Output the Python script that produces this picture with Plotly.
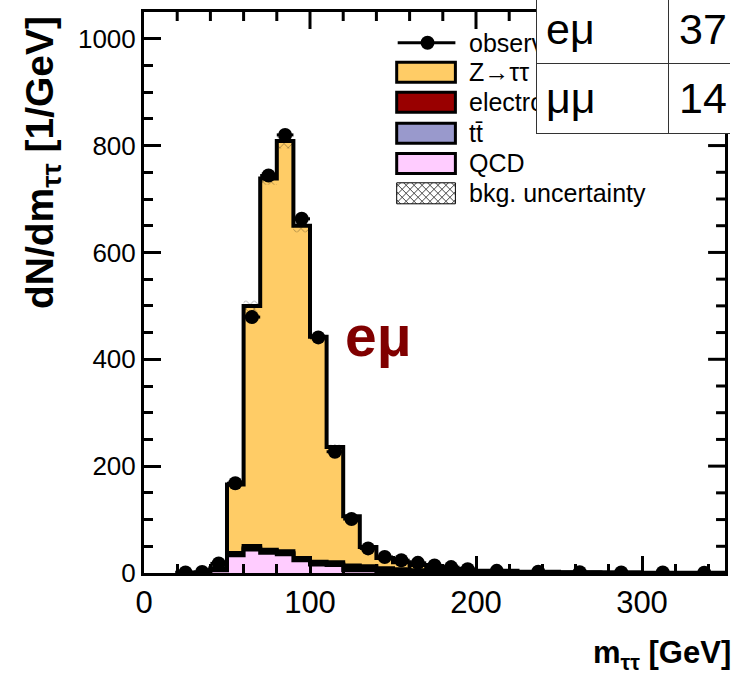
import numpy as np
import plotly.graph_objects as go

# ---------------- data ----------------
bin_edges = [20, 30, 40, 50, 60, 70, 80, 90, 100, 110, 120, 130, 140, 150, 160, 170,
             180, 190, 200, 225, 250, 275, 300, 325, 350]
ztt_values = [0.5, 1, 2.5, 128, 449, 695, 768, 622, 421, 216, 92, 36, 19, 13, 10, 6.5,
              5, 3.3, 2.2, 1.4, 0.8, 0.5, 0.5, 0.3]
ewk_values = [0, 0, 1, 3, 4, 3, 3, 2, 3, 3, 6, 5, 4, 3, 2.5, 2, 1.5, 1.2, 0.8, 0.5, 0.3,
              0.2, 0.1, 0.1]
ttbar_values = [0, 0, 0.5, 1.5, 2.5, 2.5, 2.5, 2, 2, 2, 3, 2.5, 2, 2, 1.5, 1.5, 1, 1, 0.7,
                0.4, 0.3, 0.2, 0.1, 0.1]
qcd_values = [0, 0, 5, 33, 44, 38, 35, 24, 16, 15, 5, 5, 3, 2, 1, 1, 0.5, 0.5, 0.3, 0.2,
              0.1, 0.1, 0, 0]
bkg_unc = [0, 0, 1, 5, 10, 12, 14, 12, 6, 4, 2, 1.5, 1, 1, 0.8, 0.6, 0.5, 0.4, 0.3, 0.2,
           0.1, 0.1, 0.1, 0.1]
obs_values = [1, 2, 18, 168, 479, 744, 820, 663, 441, 227, 101, 46, 30, 24, 19, 14, 11, 7,
              4, 2.5, 1.5, 1, 1, 0.5]

x_tick_vals = [0, 100, 200, 300]
y_tick_vals = [0, 200, 400, 600, 800, 1000]
x_minor_step = 20
y_minor_step = 50

legend_labels = ["observed", "Z\u2192\u03c4\u03c4", "electroweak", "tt\u0304", "QCD",
                 "bkg. uncertainty"]
colors = {"ztt": "#FFCC66", "ewk": "#990000", "ttbar": "#9999CC", "qcd": "#FFCCFF"}

channel_label = "e\u03bc"
table_rows = [("e\u03bc", "37"), ("\u03bc\u03bc", "14")]

# ---------------- helpers ----------------
edges = np.array(bin_edges, dtype=float)
centers = 0.5 * (edges[:-1] + edges[1:])
half_w = 0.5 * (edges[1:] - edges[:-1])

qcd = np.array(qcd_values)
c_tt = qcd + np.array(ttbar_values)
c_ewk = c_tt + np.array(ewk_values)
c_tot = c_ewk + np.array(ztt_values)
unc = np.array(bkg_unc)

X_RANGE = [0, 350]
Y_RANGE = [0, 1050]


def step(vals, close=True):
    xs = [edges[0]] + list(edges)
    ys = [0.0] + list(vals) + [vals[-1]]
    if close:
        xs = xs + [edges[-1]]
        ys = ys + [0.0]
    return xs, ys


FONT = "Liberation Sans, Arial, Helvetica, sans-serif"
W, H = 732, 676
L, R, T, B = 144, 728, 12, 573
PW, PH = R - L, B - T


def px(x):
    return (x - L) / PW


def py(y):
    return (B - y) / PH


fig = go.Figure()

for vals, col in [(c_tot, colors["ztt"]), (c_ewk, colors["ewk"]),
                  (c_tt, colors["ttbar"]), (qcd, colors["qcd"])]:
    xs, ys = step(vals)
    fig.add_trace(go.Scatter(x=xs, y=ys, mode="lines", line=dict(shape="hv", color="black", width=4),
                             fill="tozeroy", fillcolor=col, hoverinfo="skip"))

# uncertainty band (hatched)
xs, ys_lo = step(c_tot - unc, close=False)
_, ys_hi = step(c_tot + unc, close=False)
fig.add_trace(go.Scatter(x=xs[1:], y=ys_lo[1:], mode="lines", line=dict(shape="hv", width=0),
                         hoverinfo="skip"))
fig.add_trace(go.Scatter(x=xs[1:], y=ys_hi[1:], mode="lines", line=dict(shape="hv", width=0),
                         fill="tonexty", fillcolor="rgba(0,0,0,0)",
                         fillpattern=dict(shape="x", fgcolor="black", bgcolor="rgba(0,0,0,0)",
                                          size=6, solidity=0.2),
                         hoverinfo="skip"))

# observed data
fig.add_trace(go.Scatter(x=centers, y=obs_values, mode="markers",
                         marker=dict(color="black", size=14, symbol="circle"),
                         error_x=dict(type="data", array=half_w, color="black", thickness=3, width=0),
                         hoverinfo="skip"))

tick_common = dict(ticks="inside", ticklen=17, tickwidth=3, tickcolor="black",
                   showgrid=False, zeroline=False, showline=True, linecolor="black",
                   linewidth=3, mirror=True)

fig.update_layout(
    xaxis=dict(range=X_RANGE, tickvals=x_tick_vals, ticktext=[str(v) for v in x_tick_vals],
               tickfont=dict(family=FONT, size=31, color="black"),
               minor=dict(dtick=x_minor_step, tick0=0, ticks="inside", ticklen=9, tickwidth=3,
                          tickcolor="black", showgrid=False),
               **tick_common),
    yaxis=dict(range=Y_RANGE, tickvals=y_tick_vals, ticktext=[str(v) for v in y_tick_vals],
               tickfont=dict(family=FONT, size=26, color="black"),
               minor=dict(dtick=y_minor_step, tick0=0, ticks="inside", ticklen=9, tickwidth=3,
                          tickcolor="black", showgrid=False),
               **tick_common),
)

shapes = []
annotations = []

# ---- mirrored ticks on the top and right frame (ROOT style) ----
for v in np.arange(X_RANGE[0] + x_minor_step, X_RANGE[1], x_minor_step):
    ln = 17 if v in x_tick_vals else 9
    shapes.append(dict(type="line", xref="x", yref="paper", x0=v, x1=v, y0=1, y1=1 - ln / PH,
                       line=dict(color="black", width=3)))
for v in np.arange(Y_RANGE[0] + y_minor_step, Y_RANGE[1], y_minor_step):
    ln = 17 if v in y_tick_vals else 9
    shapes.append(dict(type="line", xref="paper", yref="y", x0=1, x1=1 - ln / PW, y0=v, y1=v,
                       line=dict(color="black", width=3)))

# ---- legend ----
row_y = [42.7, 72.2, 102.2, 133.3, 163.5, 193.3]
bx0, bx1 = 398, 457
shapes.append(dict(type="line", xref="paper", yref="paper", x0=px(399), x1=px(457),
                   y0=py(row_y[0]), y1=py(row_y[0]), line=dict(color="black", width=3)))
shapes.append(dict(type="circle", xref="paper", yref="paper", x0=px(429 - 7), x1=px(429 + 7),
                   y0=py(row_y[0] + 7), y1=py(row_y[0] - 7), fillcolor="black",
                   line=dict(color="black", width=0)))
for yy, key in zip(row_y[1:5], ["ztt", "ewk", "ttbar", "qcd"]):
    shapes.append(dict(type="rect", xref="paper", yref="paper", x0=px(bx0), x1=px(bx1),
                       y0=py(yy + 10), y1=py(yy - 10), fillcolor=colors[key],
                       line=dict(color="black", width=3)))
# hatched box
hy0, hy1 = row_y[5] - 10.5, row_y[5] + 10.5
path = ""
step_px = 8
for c in np.arange(bx0 + hy0 - 60, bx1 + hy1 + 60, step_px):
    xa, xb = max(bx0, c - hy1), min(bx1, c - hy0)
    if xb > xa:
        path += f"M{px(xa)},{py(c - xa)} L{px(xb)},{py(c - xb)} "
for c in np.arange(bx0 - hy1 - 60, bx1 - hy0 + 60, step_px):
    xa, xb = max(bx0, c + hy0), min(bx1, c + hy1)
    if xb > xa:
        path += f"M{px(xa)},{py(xa - c)} L{px(xb)},{py(xb - c)} "
shapes.append(dict(type="path", xref="paper", yref="paper", path=path,
                   line=dict(color="#444", width=1)))
shapes.append(dict(type="rect", xref="paper", yref="paper", x0=px(bx0), x1=px(bx1),
                   y0=py(hy1), y1=py(hy0), line=dict(color="black", width=1)))

for yy, lab in zip(row_y, legend_labels):
    annotations.append(dict(x=px(469), y=py(yy), xref="paper", yref="paper", text=lab,
                            xanchor="left", yanchor="middle", showarrow=False,
                            font=dict(family=FONT, size=25, color="black")))

# ---- axis titles ----
annotations.append(dict(x=px(42), y=py(14), xref="paper", yref="paper",
                        text="<b>dN/dm<sub>\u03c4\u03c4</sub> [1/GeV]</b>", textangle=-90,
                        xanchor="center", yanchor="top", showarrow=False,
                        font=dict(family=FONT, size=39, color="black")))
annotations.append(dict(x=px(736), y=py(655), xref="paper", yref="paper",
                        text="<b>m<sub>\u03c4\u03c4</sub> [GeV]</b>",
                        xanchor="right", yanchor="middle", showarrow=False,
                        font=dict(family=FONT, size=31, color="black")))

# ---- channel label ----
annotations.append(dict(x=px(344), y=py(336), xref="paper", yref="paper", text=f"<b>{channel_label}</b>",
                        xanchor="left", yanchor="middle", showarrow=False,
                        font=dict(family=FONT, size=57, color="#800000")))


# ---- table overlay (white cover, thin grid lines, text) ----
def block(x0, y0, x1, y1, color):
    return dict(x=px(x0), y=py(y0), xref="paper", yref="paper", text=" ",
                xanchor="left", yanchor="top", width=max(x1 - x0, 1), height=max(y1 - y0, 1),
                bgcolor=color, borderwidth=0, borderpad=0, showarrow=False)


annotations.append(block(538, 0, 732, 134, "white"))
for (x0, y0, x1, y1) in [(538, 0, 539, 134), (671, 0, 672, 134),
                         (538, 63, 732, 64), (538, 133, 732, 134)]:
    annotations.append(block(x0, y0, x1, y1, "#333"))

for (lab, num), base in zip(table_rows, [43, 113]):
    annotations.append(dict(x=px(546), y=py(base - 14.5), xref="paper", yref="paper", text=lab,
                            xanchor="left", yanchor="middle", showarrow=False,
                            font=dict(family=FONT, size=43, color="black")))
    annotations.append(dict(x=px(680), y=py(base - 14.5), xref="paper", yref="paper", text=num,
                            xanchor="left", yanchor="middle", showarrow=False,
                            font=dict(family=FONT, size=43, color="black")))

fig.update_layout(width=W, height=H, margin=dict(l=L, r=W - R, t=T, b=H - B),
                  paper_bgcolor="white", plot_bgcolor="white", showlegend=False,
                  shapes=shapes, annotations=annotations)

fig.write_html("out.html")
